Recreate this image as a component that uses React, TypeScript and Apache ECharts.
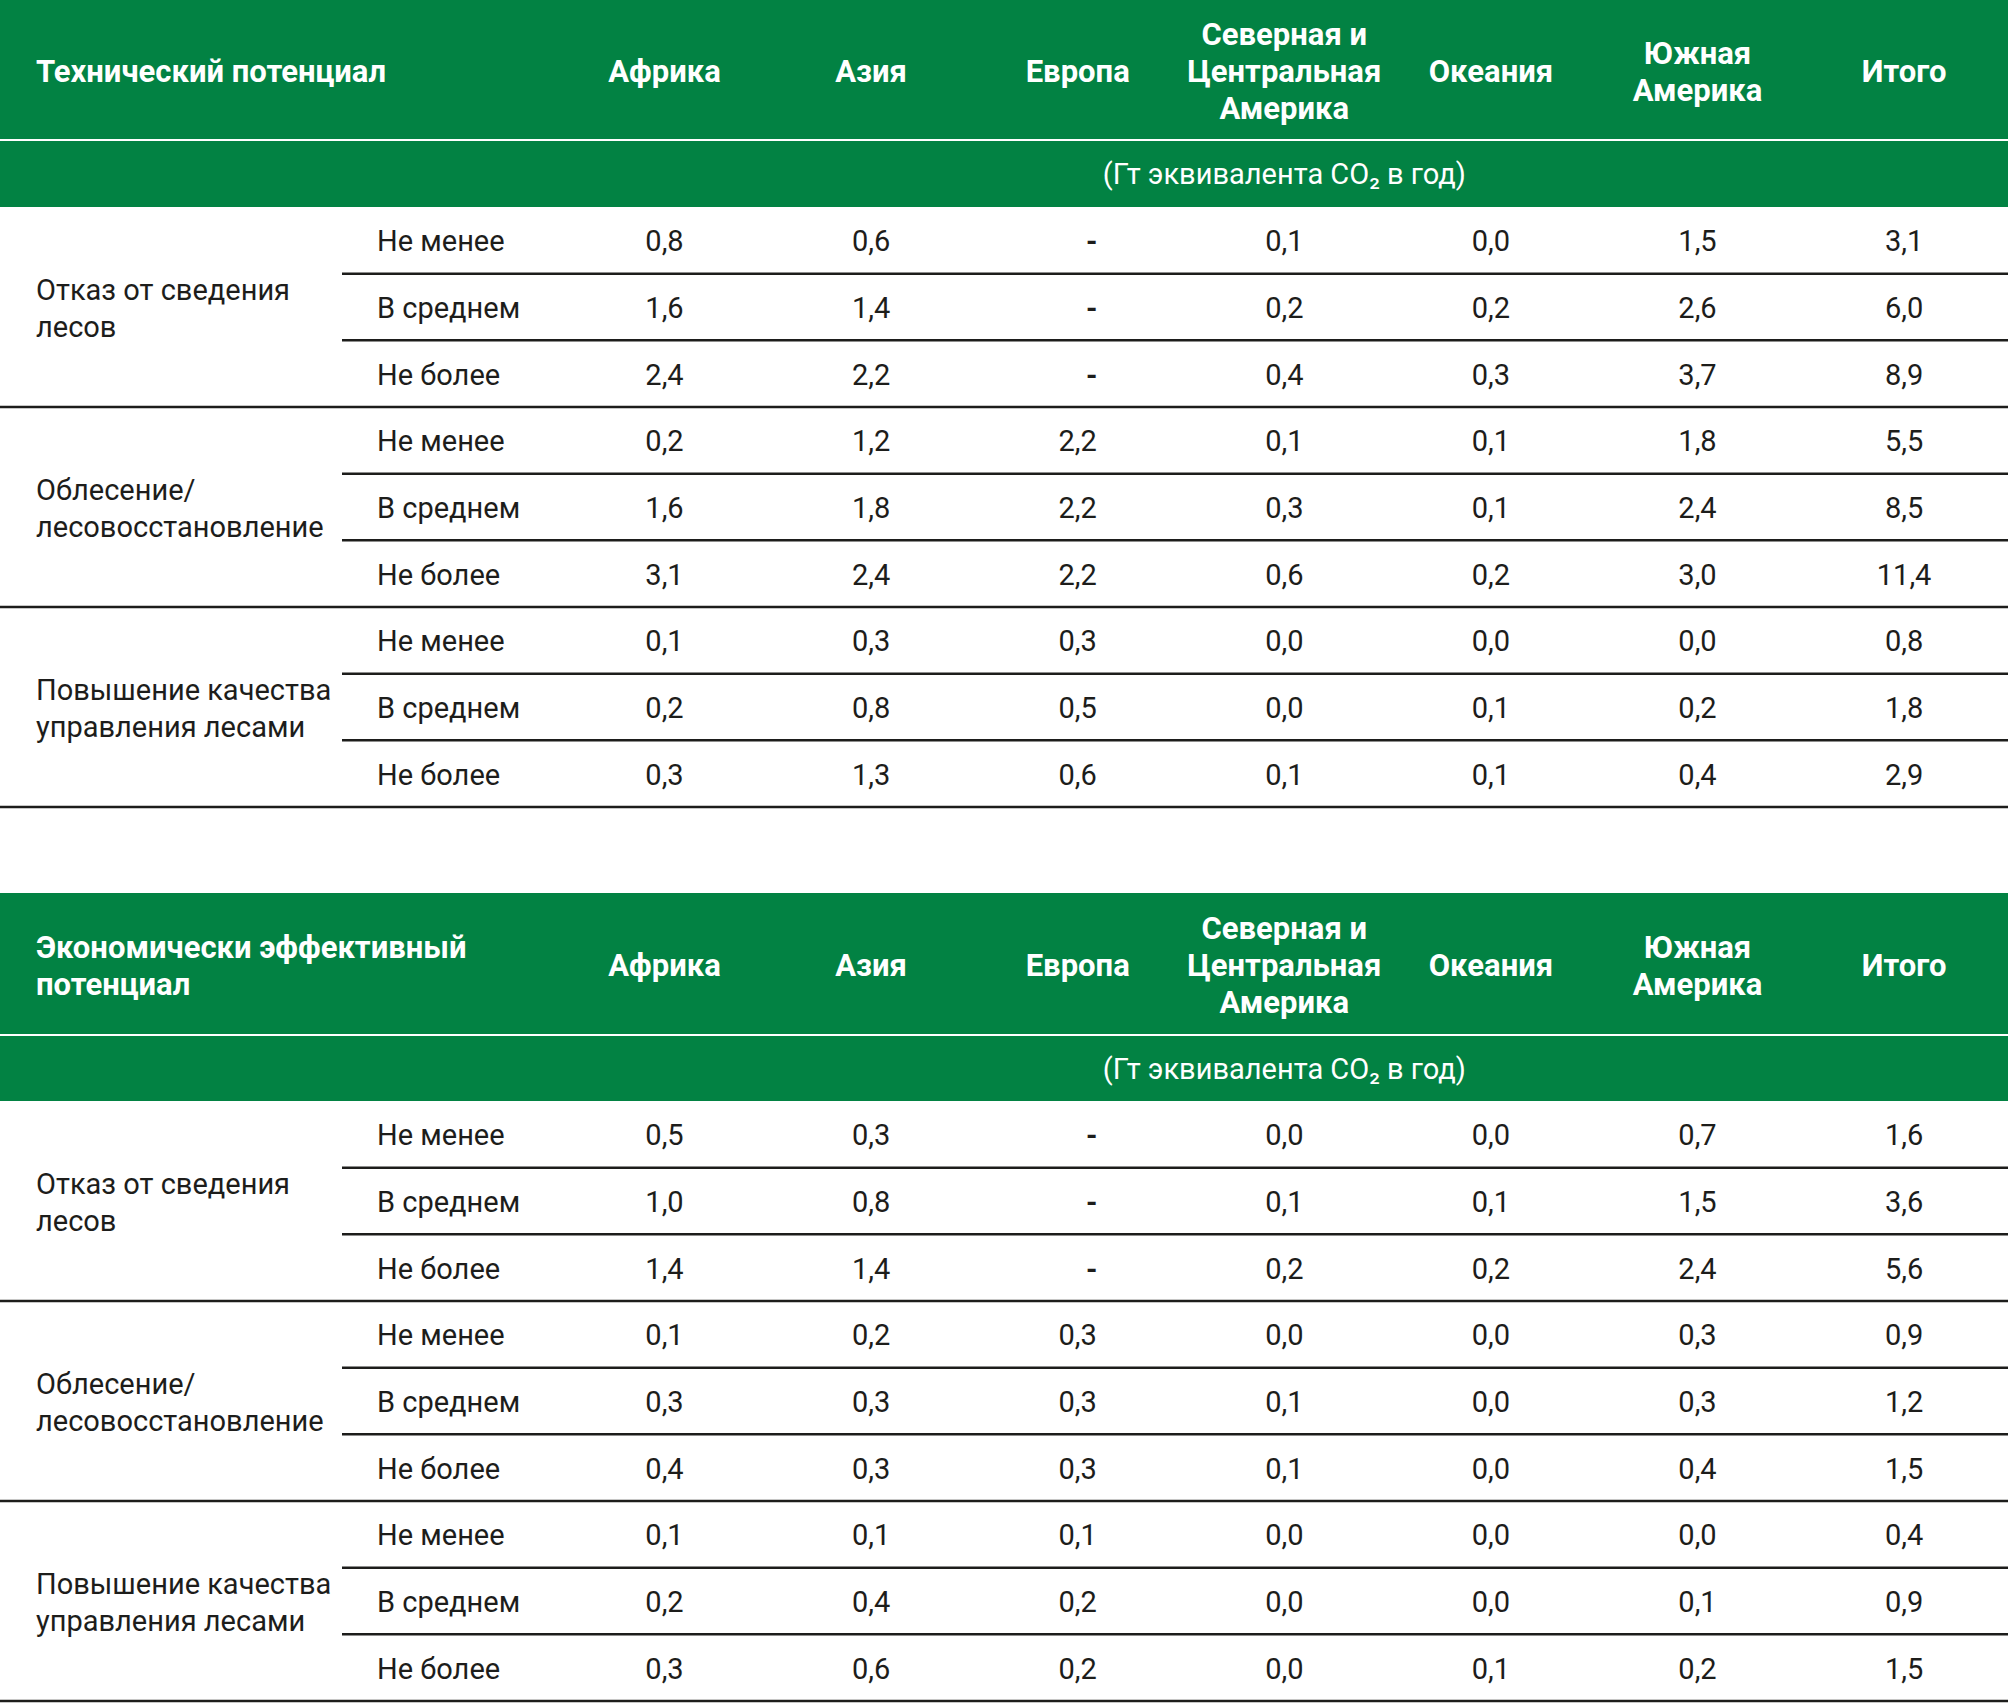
import React, { useEffect, useRef } from "react";
import * as echarts from "echarts";

const regions = [
  "Африка",
  "Азия",
  "Европа",
  "Северная и\nЦентральная\nАмерика",
  "Океания",
  "Южная\nАмерика",
  "Итого",
];
const measures = [
  "Отказ от сведения\nлесов",
  "Облесение/\nлесовосстановление",
  "Повышение качества\nуправления лесами",
];
const bounds = ["Не менее", "В среднем", "Не более"];
const unitLabel = "(Гт эквивалента CO₂ в год)";
const technicalTitle = "Технический потенциал";
const economicTitle = "Экономически эффективный\nпотенциал";

const technicalValues: (number | null)[][] = [
  [0.8, 0.6, null, 0.1, 0.0, 1.5, 3.1],
  [1.6, 1.4, null, 0.2, 0.2, 2.6, 6.0],
  [2.4, 2.2, null, 0.4, 0.3, 3.7, 8.9],
  [0.2, 1.2, 2.2, 0.1, 0.1, 1.8, 5.5],
  [1.6, 1.8, 2.2, 0.3, 0.1, 2.4, 8.5],
  [3.1, 2.4, 2.2, 0.6, 0.2, 3.0, 11.4],
  [0.1, 0.3, 0.3, 0.0, 0.0, 0.0, 0.8],
  [0.2, 0.8, 0.5, 0.0, 0.1, 0.2, 1.8],
  [0.3, 1.3, 0.6, 0.1, 0.1, 0.4, 2.9],
];
const economicValues: (number | null)[][] = [
  [0.5, 0.3, null, 0.0, 0.0, 0.7, 1.6],
  [1.0, 0.8, null, 0.1, 0.1, 1.5, 3.6],
  [1.4, 1.4, null, 0.2, 0.2, 2.4, 5.6],
  [0.1, 0.2, 0.3, 0.0, 0.0, 0.3, 0.9],
  [0.3, 0.3, 0.3, 0.1, 0.0, 0.3, 1.2],
  [0.4, 0.3, 0.3, 0.1, 0.0, 0.4, 1.5],
  [0.1, 0.1, 0.1, 0.0, 0.0, 0.0, 0.4],
  [0.2, 0.4, 0.2, 0.0, 0.0, 0.1, 0.9],
  [0.3, 0.6, 0.2, 0.0, 0.1, 0.2, 1.5],
];

const W = 2008;
const H = 1704;
const GREEN = "#028243";
const INK = "#1d1d1b";
const FONT = "Roboto, 'Noto Sans', sans-serif";
const FS = 29;
const FSB = 31;
const LH = 37;
const COL0 = 664.5;
const COLSTEP = 206.6;
const DASH_DX = 14;
const LABEL_X = 36;
const BOUND_X = 377;
const SUBLINE_X = 342;
const ROW_H = 66.67;

const fmt = (v: number | null) => (v === null ? "-" : v.toFixed(1).replace(".", ","));

function buildTable(
  top: number,
  headerBottom: number,
  subBottom: number,
  title: string,
  values: (number | null)[][]
) {
  const els: any[] = [];
  const hc = (top + headerBottom) / 2 + 2;
  els.push({ type: "rect", shape: { x: 0, y: top, width: W, height: headerBottom - top }, style: { fill: GREEN } });
  els.push({ type: "rect", shape: { x: 0, y: headerBottom + 2, width: W, height: subBottom - headerBottom - 2 }, style: { fill: GREEN } });
  els.push({
    type: "text",
    x: LABEL_X,
    y: hc,
    style: { text: title, fill: "#fff", font: `bold ${FSB}px ${FONT}`, textAlign: "left", textVerticalAlign: "middle", lineHeight: LH },
  });
  regions.forEach((r, i) => {
    els.push({
      type: "text",
      x: COL0 + i * COLSTEP,
      y: hc,
      style: { text: r, fill: "#fff", font: `bold ${FSB}px ${FONT}`, textAlign: "center", textVerticalAlign: "middle", lineHeight: LH },
    });
  });
  els.push({
    type: "text",
    x: COL0 + 3 * COLSTEP,
    y: (headerBottom + subBottom) / 2 + 1,
    style: { text: unitLabel, fill: "#fff", font: `${FS}px ${FONT}`, textAlign: "center", textVerticalAlign: "middle" },
  });
  values.forEach((row, ri) => {
    const y0 = subBottom + ri * ROW_H;
    const cy = y0 + ROW_H / 2 + 1;
    els.push({
      type: "text",
      x: BOUND_X,
      y: cy,
      style: { text: bounds[ri % 3], fill: INK, font: `${FS}px ${FONT}`, textAlign: "left", textVerticalAlign: "middle" },
    });
    row.forEach((v, ci) => {
      els.push({
        type: "text",
        x: COL0 + ci * COLSTEP + (v === null ? DASH_DX : 0),
        y: cy,
        style: { text: fmt(v), fill: INK, font: `${v === null ? "bold " : ""}${FS}px ${FONT}`, textAlign: "center", textVerticalAlign: "middle" },
      });
    });
    const ly = y0 + ROW_H;
    const full = ri % 3 === 2;
    els.push({
      type: "line",
      shape: { x1: full ? 0 : SUBLINE_X, y1: ly, x2: W, y2: ly },
      style: { stroke: INK, lineWidth: 2.5 },
    });
  });
  measures.forEach((m, gi) => {
    const gy = subBottom + (gi * 3 + 1.5) * ROW_H + 1;
    els.push({
      type: "text",
      x: LABEL_X,
      y: gy,
      style: { text: m, fill: INK, font: `${FS}px ${FONT}`, textAlign: "left", textVerticalAlign: "middle", lineHeight: LH },
    });
  });
  return els;
}

export default function App() {
  const ref = useRef<HTMLDivElement>(null);
  useEffect(() => {
    if (!ref.current) return;
    const chart = echarts.init(ref.current, null, { renderer: "svg" });
    chart.setOption({
      animation: false,
      backgroundColor: "#ffffff",
      graphic: [
        ...buildTable(0, 139, 207, technicalTitle, technicalValues),
        ...buildTable(893, 1034, 1101, economicTitle, economicValues),
      ],
    });
    return () => chart.dispose();
  }, []);
  return (
    <div
      ref={ref}
      style={{ position: "fixed", left: 0, top: 0, width: W, height: H, background: "#fff" }}
    />
  );
}
